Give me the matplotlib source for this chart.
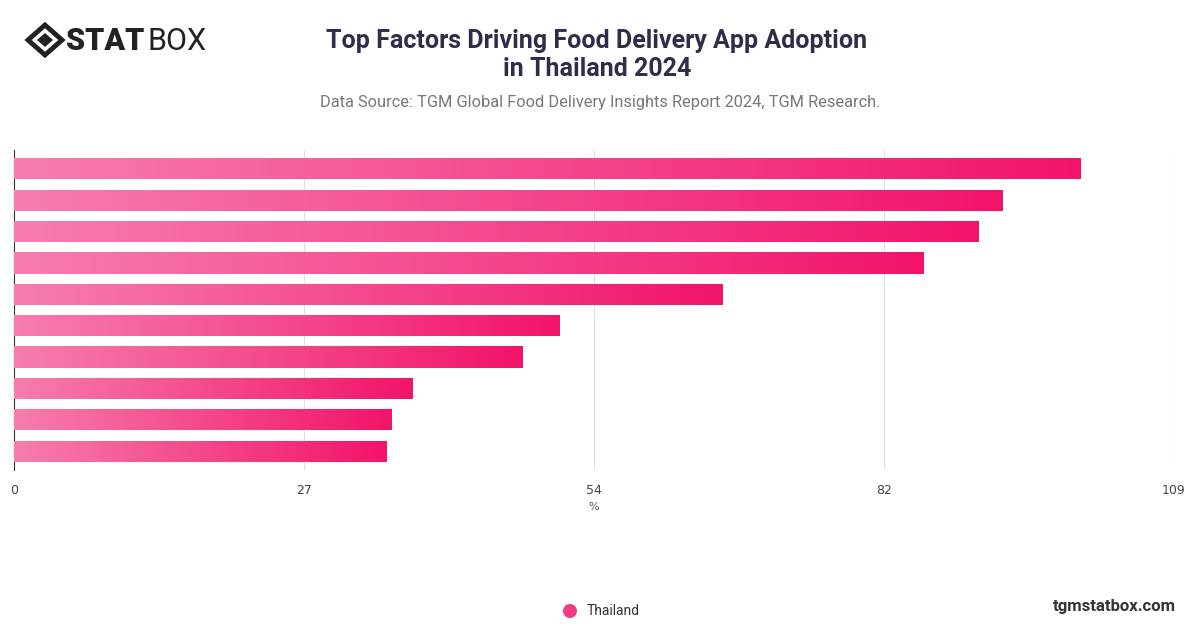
import matplotlib
matplotlib.use("Agg")
import matplotlib.pyplot as plt
import numpy as np
from matplotlib.colors import LinearSegmentedColormap
from matplotlib.patches import Circle, Polygon

factors = ["F1","F2","F3","F4","F5","F6","F7","F8","F9","F10"]
values = [100.2, 92.9, 90.6, 85.5, 66.6, 51.3, 47.8, 37.4, 35.5, 35.0]
ticks = [0, 27.25, 54.5, 81.75, 109]
tick_labels = ["0", "27", "54", "82", "109"]

W, H = 1200, 628
fig = plt.figure(figsize=(W/100, H/100), dpi=100)
ax = fig.add_axes([14/W, 1-470/H, 1160/W, 320/H])
cmap = LinearSegmentedColormap.from_list("g", ["#f77dae", "#f2146a"])
n = len(values)
ax.set_xlim(0, 109)
grad = np.linspace(0, 1, 256).reshape(1, -1)
for i, v in enumerate(values):
    y0, y1 = i - 0.34, i + 0.34
    im = ax.imshow(grad, cmap=cmap, extent=[0, v, y1, y0], aspect="auto", zorder=3)
    r = plt.Rectangle((0, y0), v, y1 - y0, transform=ax.transData, facecolor="none", edgecolor="none")
    ax.add_patch(r)
    im.set_clip_path(r)
ax.set_ylim(n - 0.5 + 0.1, -0.5 - 0.1)
ax.set_xticks(ticks)
ax.set_xticklabels(tick_labels, fontsize=9, color="#444444")
ax.set_yticks([])
ax.grid(axis="x", color="#e0e0e0", linewidth=0.8, zorder=0)
for s in ["top", "right", "bottom"]:
    ax.spines[s].set_visible(False)
ax.spines["left"].set_color("#333333")
ax.tick_params(axis="x", length=0, pad=10)
ax.set_xlabel("%", fontsize=8, color="#555555", labelpad=4)

ov = fig.add_axes([0, 0, 1, 1], zorder=5)
ov.set_xlim(0, W); ov.set_ylim(H, 0); ov.axis("off")
ov.text(597, 55, "Top Factors Driving Food Delivery App Adoption\nin Thailand 2024",
        ha="center", va="center", fontsize=18, fontweight="bold", color="#2e2e4a",
        family="Roboto", linespacing=1.2)
ov.text(600, 102, "Data Source: TGM Global Food Delivery Insights Report 2024, TGM Research.",
        ha="center", va="center", fontsize=11.8, color="#777777", family="Roboto")
ov.text(1176, 606, "tgmstatbox.com", ha="right", va="center", fontsize=12,
        fontweight="bold", color="#333333", family="Roboto")
ov.add_patch(Circle((570, 611), 7, facecolor="#f43c85", edgecolor="none"))
ov.text(587, 611, "Thailand", ha="left", va="center", fontsize=10, color="#333333", family="Roboto")
cx, cy = 45, 40
ov.add_patch(Polygon([(cx-17, cy), (cx, cy-15), (cx+17, cy), (cx, cy+15)], closed=True,
                     facecolor="none", edgecolor="#222222", linewidth=3.5))
ov.add_patch(Polygon([(cx-8, cy), (cx, cy-7), (cx+8, cy), (cx, cy+7)], closed=True,
                     facecolor="#222222", edgecolor="none"))
ov.text(66, 41, "STAT", ha="left", va="center", fontsize=22, fontweight="black",
        color="#222222", family="Roboto")
ov.text(148, 41, "BOX", ha="left", va="center", fontsize=22, fontweight="normal",
        color="#222222", family="Roboto")
fig.savefig("out.png", dpi=100, facecolor="white")
